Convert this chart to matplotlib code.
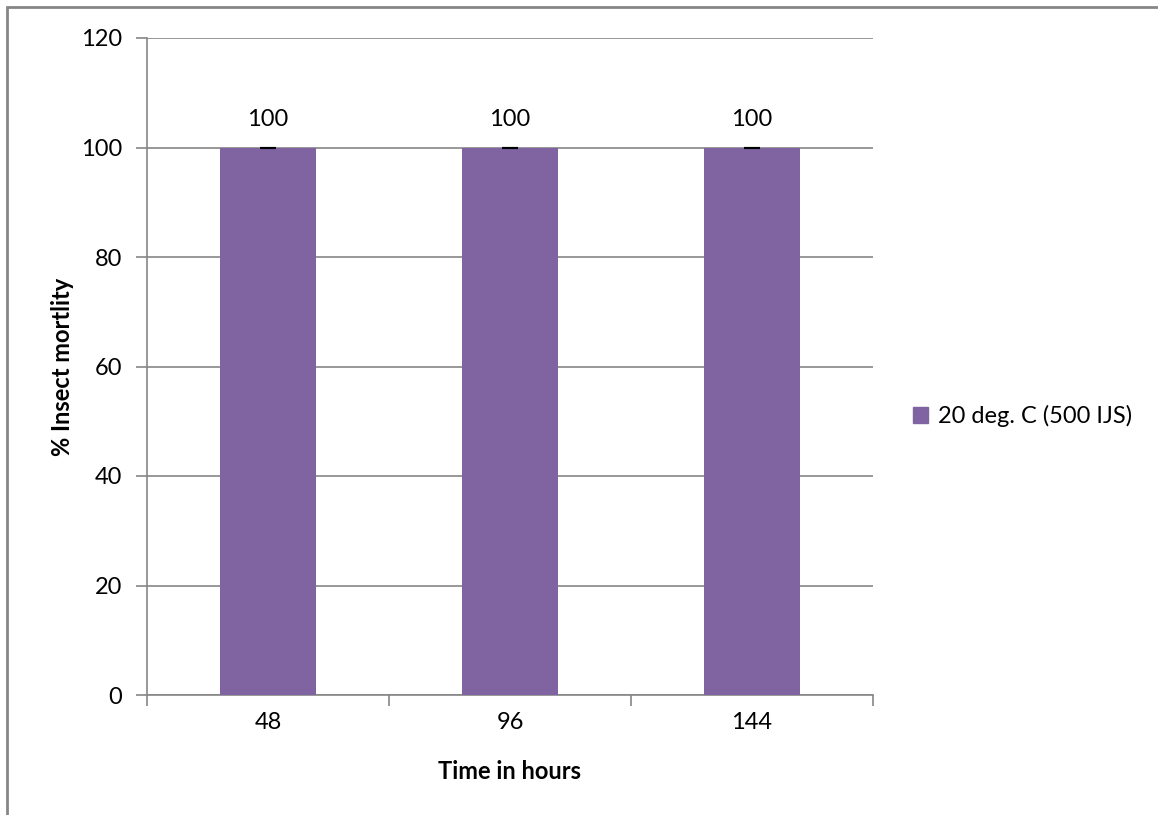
import matplotlib.pyplot as plt
import numpy as np
from matplotlib.patches import Rectangle

# Mortality data at each time point
hours = ['48', '96', '144']
mortality = [100, 100, 100]
errors = [0, 0, 0]
series_name = '20 deg. C (500 IJS)'

plt.rcParams['font.family'] = ['Lato', 'DejaVu Sans']
bar_color = '#8064A2'
grid_color = '#868686'
fs = 17

fig = plt.figure(figsize=(11.58, 8.15), dpi=100)
ax = fig.add_axes([147/1158, 1 - 695/815, 726/1158, 657/815])

x = np.arange(len(hours))
ax.bar(x, mortality, width=0.4, color=bar_color, zorder=3)
ax.errorbar(x, mortality, yerr=errors, fmt='none', ecolor='black',
            capsize=6, capthick=1.5, elinewidth=1.5, zorder=4)
for xi, v in zip(x, mortality):
    ax.text(xi, v + 3.2, str(v), ha='center', va='bottom', fontsize=fs)

ax.set_xlim(-0.5, len(hours) - 0.5)
ax.set_ylim(0, 120)
ax.set_yticks(range(0, 121, 20))
ax.yaxis.grid(True, color=grid_color, linewidth=1.2, zorder=0)
ax.set_axisbelow(True)

# category labels centered, tick marks at category boundaries
ax.set_xticks(x)
ax.set_xticklabels(hours, fontsize=fs)
ax.tick_params(axis='x', length=0, pad=12)
ax.set_xticks(np.arange(-0.5, len(hours)), minor=True)
ax.tick_params(axis='x', which='minor', length=8, color=grid_color, width=1.2)
ax.tick_params(axis='y', length=8, color=grid_color, width=1.2, labelsize=fs, pad=10)

for side in ['top', 'right']:
    ax.spines[side].set_visible(False)
for side in ['left', 'bottom']:
    ax.spines[side].set_color(grid_color)
    ax.spines[side].set_linewidth(1.2)

ax.set_xlabel('Time in hours', fontsize=fs, fontweight='bold', labelpad=20)
ax.set_ylabel('% Insect mortlity', fontsize=fs, fontweight='bold', labelpad=5)

fig.legend([Rectangle((0, 0), 1, 1, color=bar_color)], [series_name],
           loc='center left', bbox_to_anchor=(913/1158, 1 - 416/815),
           frameon=False, fontsize=fs, handlelength=0.65, handleheight=0.65,
           handletextpad=0.4, borderpad=0, borderaxespad=0)

# chart border
fig.patches.append(Rectangle((7/1158, -0.1), 1.2, 1 - 7/815 + 0.1,
                             transform=fig.transFigure, fill=False,
                             edgecolor=grid_color, linewidth=2))

fig.savefig('out.png', dpi=100)
